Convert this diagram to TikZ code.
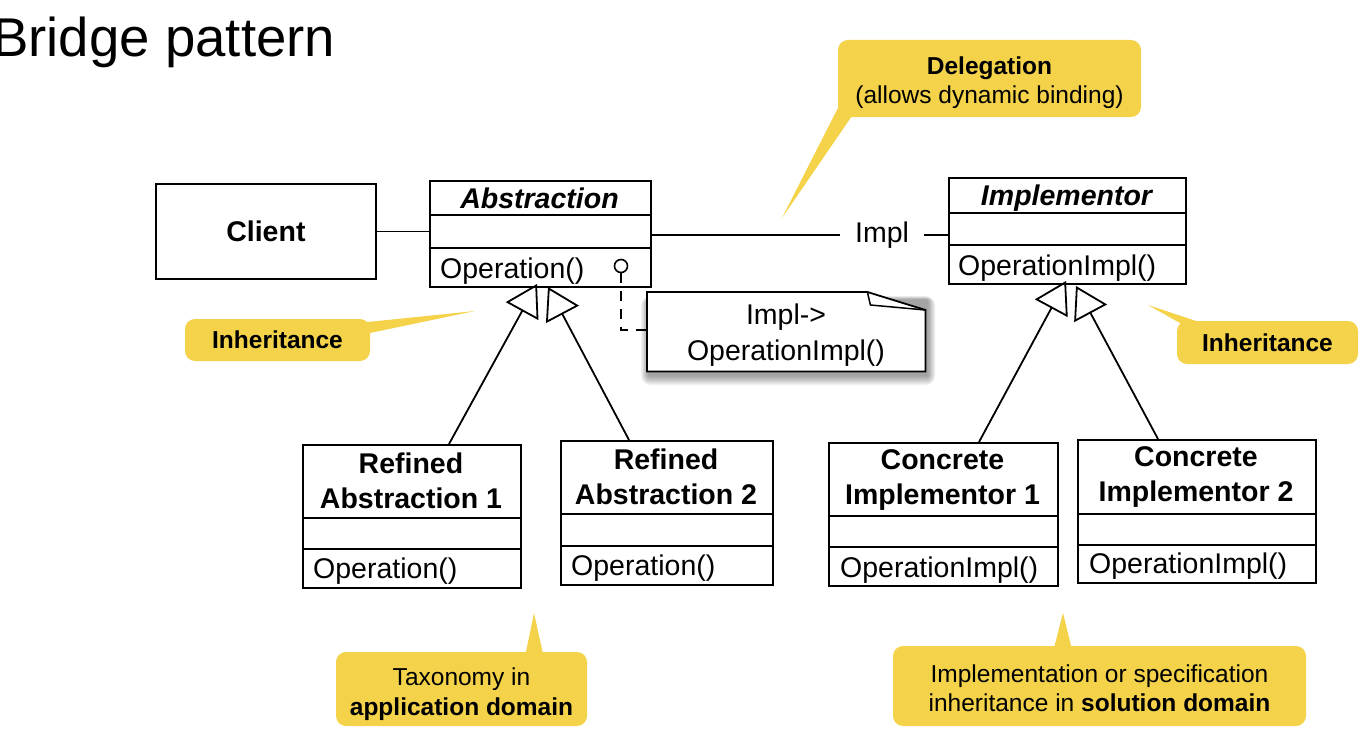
\documentclass[tikz,border=0pt]{standalone}
\usepackage{fontspec}
\setmainfont{Liberation Sans}
\usetikzlibrary{arrows.meta,calc}
\definecolor{callY}{RGB}{244,211,74}
\begin{document}
\begin{tikzpicture}[x=1pt,y=-1pt,
  cls/.style={draw, line width=1.8pt, inner sep=0pt, anchor=north west},
  umlfont/.style={font=\fontsize{28.5}{35.5}\selectfont},
  txt/.style={inner sep=0pt, umlfont},
  comp/.style={line width=1.8pt},
  gen/.style={line width=1.8pt, -{Triangle[open,length=31pt,width=37pt]}},
  assoc/.style={line width=1.8pt},
  dashline/.style={line width=1.8pt, dash pattern=on 10pt off 8pt},
  callout/.style={fill=callY, rounded corners=10pt, inner sep=0pt, align=center,
                  font=\fontsize{24.5}{29.5}\selectfont},
  pointer/.style={fill=callY}]
\useasboundingbox (0,0) rectangle (1366,752);

% title
\node[anchor=base west, inner sep=0pt, font=\fontsize{54.6}{60}\selectfont] (title) at (-8,57) {Bridge pattern};

% ---------- callouts (behind) ----------
\node[callout, minimum width=303pt, minimum height=77pt] (deleg) at (989.5,78.5)
  {\rule{0pt}{26pt}\textbf{Delegation}\\(allows dynamic binding)};
\coordinate (delegTip) at (782,218);
\fill[pointer] ($(deleg.south west)+(0,-9)$) -- ($(deleg.south west)+(14,-1)$) -- (delegTip) -- cycle;

\node[callout, minimum width=185pt, minimum height=42pt] (inhL) at (277.5,340) {\textbf{Inheritance}};
\coordinate (inhLTip) at (475,311);
\fill[pointer] (358,323) -- (358,335.5) -- (inhLTip) -- cycle;

\node[callout, minimum width=181pt, minimum height=43pt] (inhR) at (1267.5,342.5) {\textbf{Inheritance}};
\coordinate (inhRTip) at (1148,305);
\fill[pointer] (1200,322.3) -- (1190,328.7) -- (inhRTip) -- cycle;

\node[callout, minimum width=251pt, minimum height=74pt] (tax) at (461.5,689)
  {\rule{0pt}{28pt}Taxonomy in\\\textbf{application domain}};
\coordinate (taxTip) at (534,613);
\fill[pointer] ($(tax.north west)+(189.6,3)$) -- ($(tax.north west)+(207.4,3)$) -- (taxTip) -- cycle;

\node[callout, minimum width=413pt, minimum height=80pt] (sol) at (1099.5,686)
  {\rule{0pt}{22pt}Implementation or specification\\inheritance in \textbf{solution domain}};
\coordinate (solTip) at (1063,613);
\fill[pointer] ($(sol.north west)+(161,3)$) -- ($(sol.north west)+(179,3)$) -- (solTip) -- cycle;

% ---------- classes ----------
\node[cls, minimum width=220pt, minimum height=95pt] (client) at (155,183) {};
\node[txt, font=\fontsize{28.5}{35.5}\selectfont\bfseries] (clientT) at (client.center) {Client};

\node[cls, minimum width=221pt, minimum height=106pt] (abs) at (429,180) {};
\draw[comp] ($(abs.north west)+(0,35)$) -- ($(abs.north east)+(0,35)$);
\draw[comp] ($(abs.north west)+(0,68)$) -- ($(abs.north east)+(0,68)$);
\node[txt, anchor=base, font=\fontsize{28.5}{35.5}\selectfont\bfseries\itshape] (absT) at (539.5,208) {Abstraction};
\node[txt, anchor=base west] (absOp) at (440,278) {Operation()};
\node[circle, draw, line width=1.6pt, fill=white, minimum size=13pt, inner sep=0pt] (opc) at (621,266) {};

\node[cls, minimum width=237pt, minimum height=106pt] (impl) at (948,177) {};
\draw[comp] ($(impl.north west)+(0,36)$) -- ($(impl.north east)+(0,36)$);
\draw[comp] ($(impl.north west)+(0,68)$) -- ($(impl.north east)+(0,68)$);
\node[txt, anchor=base, font=\fontsize{28.5}{35.5}\selectfont\bfseries\itshape] (implT) at (1066.5,205) {Implementor};
\node[txt, anchor=base west] (implOp) at (958,275) {OperationImpl()};

\node[cls, minimum width=218pt, minimum height=143pt] (ra1) at (302,444) {};
\draw[comp] ($(ra1.north west)+(0,74)$) -- ($(ra1.north east)+(0,74)$);
\draw[comp] ($(ra1.north west)+(0,105)$) -- ($(ra1.north east)+(0,105)$);
\node[txt, align=center, font=\fontsize{28.5}{35.5}\selectfont\bfseries] (ra1T) at (411,481) {Refined\\Abstraction 1};
\node[txt, anchor=base west] (ra1Op) at (313,578) {Operation()};

\node[cls, minimum width=212pt, minimum height=144pt] (ra2) at (560,440) {};
\draw[comp] ($(ra2.north west)+(0,74)$) -- ($(ra2.north east)+(0,74)$);
\draw[comp] ($(ra2.north west)+(0,106)$) -- ($(ra2.north east)+(0,106)$);
\node[txt, align=center, font=\fontsize{28.5}{35.5}\selectfont\bfseries] (ra2T) at (666,477) {Refined\\Abstraction 2};
\node[txt, anchor=base west] (ra2Op) at (571,575) {Operation()};

\node[cls, minimum width=229pt, minimum height=143pt] (ci1) at (828,442) {};
\draw[comp] ($(ci1.north west)+(0,74)$) -- ($(ci1.north east)+(0,74)$);
\draw[comp] ($(ci1.north west)+(0,105)$) -- ($(ci1.north east)+(0,105)$);
\node[txt, align=center, font=\fontsize{28.5}{35.5}\selectfont\bfseries] (ci1T) at (942.5,480) {Concrete\\Implementor 1};
\node[txt, anchor=base west] (ci1Op) at (840,577) {OperationImpl()};

\node[cls, minimum width=238pt, minimum height=143pt] (ci2) at (1077,439) {};
\draw[comp] ($(ci2.north west)+(0,75)$) -- ($(ci2.north east)+(0,75)$);
\draw[comp] ($(ci2.north west)+(0,106)$) -- ($(ci2.north east)+(0,106)$);
\node[txt, align=center, font=\fontsize{28.5}{35.5}\selectfont\bfseries] (ci2T) at (1196,477) {Concrete\\Implementor 2};
\node[txt, anchor=base west] (ci2Op) at (1089,573) {OperationImpl()};

% ---------- note ----------
\node[minimum width=278pt, minimum height=79pt, inner sep=0pt, anchor=north west] (note) at (647,292) {};
\foreach \s in {1,...,10}{
  \fill[black, opacity=0.045, rounded corners=\s pt]
    ($(note.north west)+(2-0.8*\s,8-0.4*\s)$) rectangle ($(note.south east)+(2+0.8*\s,4+\s)$);
}
\draw[line width=1.8pt, fill=white] (note.north west) -- ($(note.north east)+(-58,0)$)
  -- ($(note.north east)+(0,18)$) -- (note.south east) -- (note.south west) -- cycle;
\draw[line width=1.5pt] ($(note.north east)+(-58,0)$) -- ($(note.north east)+(-55,13)$) -- ($(note.north east)+(0,18)$);
\node[txt, align=center, font=\fontsize{28.5}{36.5}\selectfont] (noteT) at (786,335) {Impl->\\OperationImpl()};

% ---------- connectors ----------
\draw[assoc] (client.east) -- (abs.west |- client.east);
\node[txt, anchor=base, inner xsep=15pt] (implLbl) at (882,242) {Impl};
\draw[assoc] (abs.east |- implLbl.west) -- (implLbl.west);
\draw[assoc] (implLbl.east) -- (impl.west |- implLbl.east);

\draw[dashline] (opc.south) |- (note.west |- 0,330);

\coordinate (aTipL) at (537,284);
\coordinate (aTipR) at (548,287);
\coordinate (iTipL) at (1066,281);
\coordinate (iTipR) at (1076,286);
\draw[gen] ($(ra1.north west)+(147,0)$) -- (aTipL);
\draw[gen] ($(ra2.north west)+(69,0)$) -- (aTipR);
\draw[gen] ($(ci1.north west)+(151,0)$) -- (iTipL);
\draw[gen] ($(ci2.north west)+(81,0)$) -- (iTipR);
\end{tikzpicture}
\end{document}
